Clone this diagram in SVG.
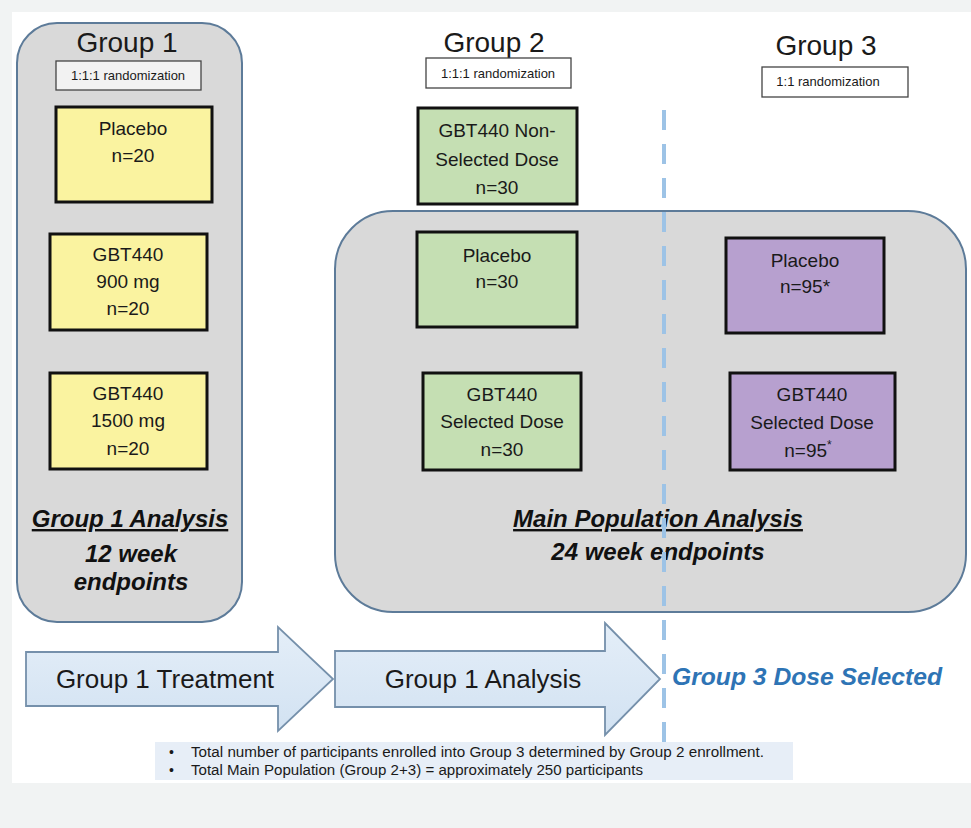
<svg xmlns="http://www.w3.org/2000/svg" width="971" height="828" viewBox="0 0 971 828">
<defs>
<linearGradient id="arrowFill" x1="0" y1="0" x2="0" y2="1">
<stop offset="0" stop-color="#e4eef8"/>
<stop offset="1" stop-color="#d2e2f2"/>
</linearGradient>
<style>
text{font-family:"Liberation Sans",Arial,sans-serif;fill:#1a1a1a;}
.grp{fill:#d9d9d9;stroke:#5d7b99;stroke-width:2;}
.box{stroke:#111;stroke-width:3;}
.yellow{fill:#faf3a0;}
.green{fill:#c5dfb3;}
.purple{fill:#b7a0cf;}
.rand{stroke:#444;stroke-width:1.3;}
.title{font-size:28px;text-anchor:middle;}
.rt{font-size:13px;text-anchor:middle;}
.bt{font-size:19px;text-anchor:middle;}
.an{font-size:24px;font-weight:bold;font-style:italic;text-anchor:middle;fill:#111;}
.arrow{fill:url(#arrowFill);stroke:#7590ab;stroke-width:1.8;}
.at{font-size:26px;text-anchor:middle;}
.bul{font-size:14px;}
</style>
</defs>
<rect x="0" y="0" width="971" height="828" fill="#f1f3f3"/>
<rect x="12" y="12" width="959" height="771" fill="#ffffff"/>

<g id="group1">
<rect class="grp" x="17" y="23" width="225" height="599" rx="40" ry="40"/>
<text class="title" x="127" y="52">Group 1</text>
</g>
<g id="g1-rand">
<rect class="rand" x="56" y="61" width="145" height="29" fill="#f2f2f2"/>
<text class="rt" x="128" y="80">1:1:1 randomization</text>
</g>
<g id="g1-placebo">
<rect class="box yellow" x="56" y="107" width="156" height="95"/>
<text class="bt" x="133" y="135">Placebo</text>
<text class="bt" x="133" y="162">n=20</text>
</g>
<g id="g1-900">
<rect class="box yellow" x="50" y="234" width="157" height="96"/>
<text class="bt" x="128" y="261">GBT440</text>
<text class="bt" x="128" y="288">900 mg</text>
<text class="bt" x="128" y="315">n=20</text>
</g>
<g id="g1-1500">
<rect class="box yellow" x="50" y="373" width="157" height="96"/>
<text class="bt" x="128" y="400">GBT440</text>
<text class="bt" x="128" y="427">1500 mg</text>
<text class="bt" x="128" y="455">n=20</text>
</g>
<g id="g1-analysis">
<text class="an" x="130" y="527" text-decoration="underline">Group 1 Analysis</text>
<text class="an" x="131" y="562">12 week</text>
<text class="an" x="131" y="590">endpoints</text>
</g>

<g id="group2-title">
<text class="title" x="494" y="52">Group 2</text>
</g>
<g id="g2-rand">
<rect class="rand" x="426" y="58" width="145" height="30" fill="#ffffff"/>
<text class="rt" x="498" y="78">1:1:1 randomization</text>
</g>
<g id="g2-nonselected">
<rect class="box green" x="418" y="108" width="159" height="96"/>
<text class="bt" x="497" y="137">GBT440 Non-</text>
<text class="bt" x="497" y="166">Selected Dose</text>
<text class="bt" x="497" y="194">n=30</text>
</g>

<g id="group3-title">
<text class="title" x="826" y="55">Group 3</text>
</g>
<g id="g3-rand">
<rect class="rand" x="762" y="67" width="146" height="30" fill="#ffffff"/>
<text class="rt" x="828" y="86">1:1 randomization</text>
</g>

<g id="main-population">
<rect class="grp" x="335" y="211" width="631" height="401" rx="58" ry="58"/>
</g>
<g id="g2-placebo">
<rect class="box green" x="417" y="232" width="160" height="95"/>
<text class="bt" x="497" y="262">Placebo</text>
<text class="bt" x="497" y="288">n=30</text>
</g>
<g id="g2-selected">
<rect class="box green" x="423" y="373" width="158" height="97"/>
<text class="bt" x="502" y="401">GBT440</text>
<text class="bt" x="502" y="428">Selected Dose</text>
<text class="bt" x="502" y="456">n=30</text>
</g>
<g id="g3-placebo">
<rect class="box purple" x="726" y="238" width="158" height="95"/>
<text class="bt" x="805" y="267">Placebo</text>
<text class="bt" x="805" y="293">n=95*</text>
</g>
<g id="g3-selected">
<rect class="box purple" x="730" y="373" width="165" height="97"/>
<text class="bt" x="812" y="401">GBT440</text>
<text class="bt" x="812" y="429">Selected Dose</text>
<text class="bt" x="808" y="457">n=95<tspan font-size="12" dy="-8">*</tspan></text>
</g>
<g id="main-analysis">
<text class="an" x="658" y="527" text-decoration="underline">Main Population Analysis</text>
<text class="an" x="658" y="560">24 week endpoints</text>
</g>

<g id="connectors">
<g id="arrow-treatment">
<path class="arrow" d="M26,652 L278,652 L278,627 L333,679 L278,731 L278,706 L26,706 Z"/>
<text class="at" x="165" y="688">Group 1 Treatment</text>
</g>
<g id="arrow-analysis">
<path class="arrow" d="M335,651 L605,651 L605,623 L660,679 L605,735 L605,707 L335,707 Z"/>
<text class="at" x="483" y="688">Group 1 Analysis</text>
</g>
</g>

<g id="divider">
<line x1="664" y1="110" x2="664" y2="742" stroke="#9dc3e6" stroke-width="4" stroke-dasharray="20 14"/>
</g>

<g id="dose-selected">
<text x="672" y="685" font-size="24.5" font-weight="bold" font-style="italic" fill="#2e74b5" style="fill:#2e74b5" textLength="270" lengthAdjust="spacingAndGlyphs">Group 3 Dose Selected</text>
</g>

<g id="notes">
<rect x="155" y="742" width="638" height="38" fill="#e7eef7"/>
<text class="bul" x="169" y="757">•</text>
<text class="bul" x="191" y="757" textLength="573" lengthAdjust="spacingAndGlyphs">Total number of participants enrolled into Group 3 determined by Group 2 enrollment.</text>
<text class="bul" x="169" y="775">•</text>
<text class="bul" x="191" y="775" textLength="452" lengthAdjust="spacingAndGlyphs">Total Main Population (Group 2+3) = approximately 250 participants</text>
</g>
</svg>
